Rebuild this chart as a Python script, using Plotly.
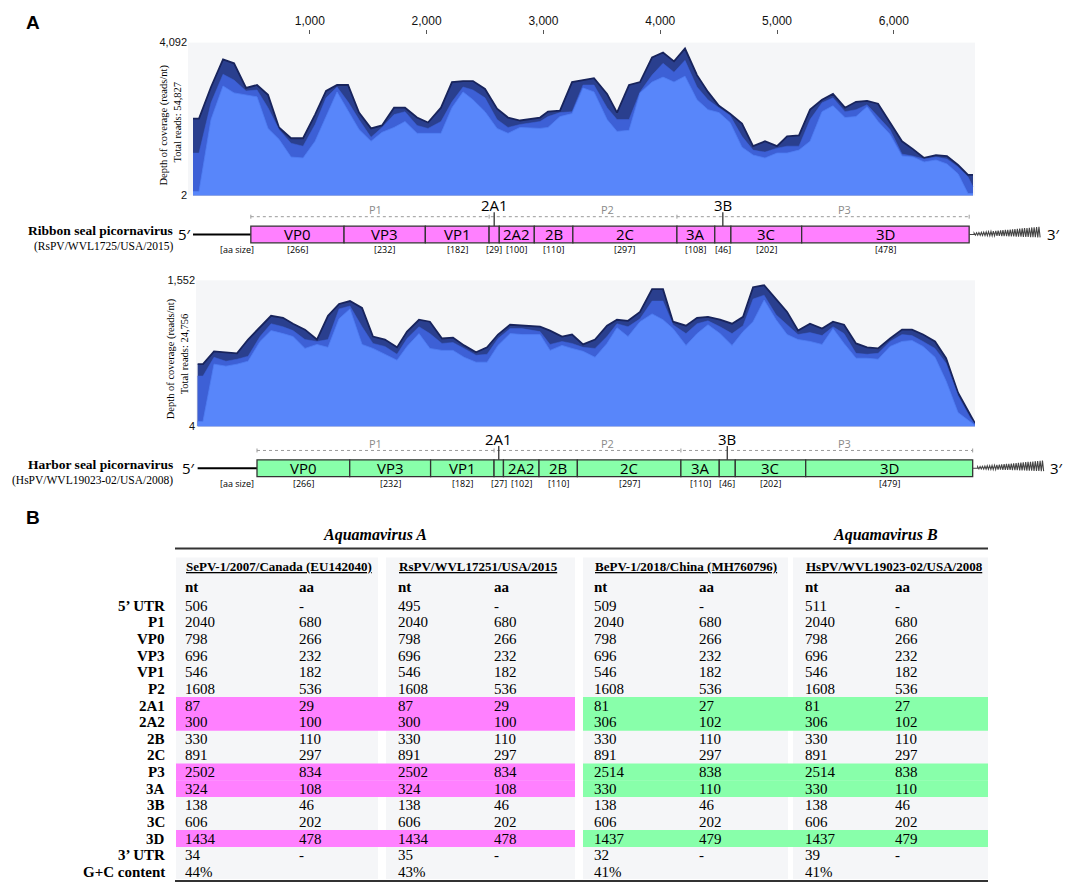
import plotly.graph_objects as go

# the page body adds an 8 px margin, so the figure is made 16 px smaller
# than the window and every position below is given in window pixels
WIN_W, WIN_H = 1084, 896
OFF = 8
W, H = WIN_W - 2 * OFF, WIN_H - 2 * OFF
SERIF = 'Liberation Serif, Times New Roman, serif'
SANS = 'Liberation Sans, Arial, sans-serif'
MAPF = 'Open Sans, sans-serif'

PINK = '#FF80FF'
GREEN = '#88FFAA'
DARK = '#2A3F8E'
MID = '#3D60D6'
LIGHT = '#5886FA'
PANEL = '#F5F6F8'


def px(x):
    return (x - OFF) / W


def py(y):
    return 1 - (y - OFF) / H


# ---- coverage along the RsPV genome (reads/nt) ----
rs_pos = [0, 51, 154, 257, 351, 454, 548, 642, 736, 839, 942, 1045, 1139, 1233, 1327, 1421, 1524, 1618, 1721, 1815,
          1918, 2012, 2123, 2217, 2312, 2397, 2500, 2603, 2697, 2800, 2971, 3039, 3142, 3245, 3339, 3433, 3545, 3630,
          3733, 3827, 3930, 4024, 4118, 4212, 4315, 4409, 4503, 4598, 4700, 4795, 4897, 5000, 5086, 5188, 5283, 5385,
          5479, 5582, 5676, 5771, 5865, 5967, 6070, 6164, 6259, 6361, 6455, 6550, 6635, 6678]
rs_high = [2060, 2060, 2905, 3644, 3538, 2879, 2958, 2694, 1823, 1533, 1533, 2166, 2799, 2958, 2958, 2219, 1797, 1876,
           2351, 2351, 2087, 1955, 2351, 3037, 3063, 3063, 2852, 2324, 2087, 2008, 2087, 2245, 2272, 3037, 3090, 3142,
           2720, 2219, 2958, 3037, 3697, 3829, 3591, 3934, 3222, 2773, 2403, 2192, 1928, 1322, 1453, 1322, 1585, 1612,
           2298, 2562, 2720, 2351, 2509, 2535, 2456, 1955, 1453, 1242, 1005, 1084, 1058, 820, 556, 556]
rs_mid = [1137, 1137, 2483, 3248, 3090, 2799, 2826, 2351, 1770, 1401, 1322, 1902, 2615, 2905, 2509, 2034, 1559, 1823,
          2166, 2245, 1876, 1797, 1981, 2509, 2905, 2826, 2615, 2034, 1823, 1902, 1981, 2113, 2219, 2245, 2958, 2958,
          2351, 2034, 2034, 2773, 3222, 3538, 3301, 3617, 2905, 2562, 2351, 2140, 1585, 1216, 1163, 1269, 1322, 1322,
          2034, 2483, 2615, 2245, 2298, 2430, 2113, 1770, 1110, 1058, 978, 1031, 978, 767, 503, 239]
rs_low = [108, 108, 2034, 2931, 2747, 2694, 2641, 1797, 1506, 1031, 1005, 1453, 2113, 2773, 2272, 1770, 1453, 1691,
          1823, 1981, 1665, 1665, 1665, 2351, 2773, 2562, 2245, 1797, 1665, 1823, 1797, 1823, 2113, 2192, 2879, 2773,
          2034, 1717, 1744, 2747, 3037, 3169, 3037, 3195, 2562, 2298, 2219, 1955, 1295, 1084, 1005, 1137, 1137, 1216,
          1453, 2245, 2403, 2087, 2113, 2377, 1981, 1638, 1058, 1031, 899, 952, 846, 583, 55, 55]

# ---- coverage along the HsPV genome (reads/nt) ----
hs_pos = [0, 46, 141, 244, 339, 434, 537, 632, 735, 821, 924, 1027, 1122, 1217, 1311, 1415, 1509, 1612, 1716, 1802,
          1905, 1999, 2103, 2198, 2293, 2396, 2491, 2585, 2689, 2792, 2947, 3033, 3136, 3222, 3317, 3420, 3523, 3609,
          3704, 3807, 3911, 4005, 4091, 4203, 4298, 4392, 4496, 4599, 4694, 4780, 4875, 4978, 5073, 5167, 5270, 5374,
          5468, 5563, 5666, 5761, 5856, 5959, 6062, 6148, 6243, 6346, 6441, 6544, 6647, 6690]
hs_high = [663, 663, 799, 789, 778, 924, 1060, 1176, 1155, 1092, 1029, 924, 1176, 1301, 1332, 1259, 956, 924, 841, 1008,
           1134, 1113, 935, 945, 862, 789, 841, 977, 1081, 1071, 1060, 1019, 956, 977, 872, 924, 1071, 1134, 1123, 1217,
           1458, 1458, 1113, 1071, 1155, 1165, 1134, 1092, 1165, 1479, 1500, 1353, 1217, 1019, 1092, 1040, 1113, 1081,
           883, 841, 830, 935, 1029, 1029, 977, 904, 726, 360, 140, 35]
hs_mid = [537, 537, 736, 694, 715, 747, 956, 1092, 1060, 1019, 924, 904, 924, 1249, 1280, 1060, 883, 851, 768, 935,
          1060, 987, 883, 893, 830, 757, 768, 935, 1040, 1040, 1008, 872, 904, 883, 841, 830, 956, 1092, 1060, 1144,
          1332, 1332, 1081, 987, 1092, 1123, 1060, 987, 1071, 1353, 1395, 1186, 1081, 977, 998, 966, 1060, 987, 778,
          768, 778, 904, 977, 966, 904, 830, 673, 328, 98, 25]
hs_low = [56, 56, 663, 642, 663, 694, 904, 1019, 987, 956, 830, 872, 841, 1144, 1249, 872, 830, 768, 705, 851, 987,
          830, 809, 809, 736, 684, 684, 862, 987, 977, 977, 809, 862, 830, 799, 736, 883, 1050, 956, 1113, 1196, 1134,
          1040, 862, 987, 1081, 987, 862, 1008, 1113, 1343, 1134, 977, 924, 904, 872, 1040, 883, 726, 726, 715, 851,
          904, 914, 851, 736, 485, 150, 56, 14]

tick_nt = [1000, 2000, 3000, 4000, 5000, 6000]
tick_text = ['1,000', '2,000', '3,000', '4,000', '5,000', '6,000']

# ---- genome organisation table ----
row_names = ['5’ UTR', 'P1', 'VP0', 'VP3', 'VP1', 'P2', '2A1', '2A2', '2B', '2C', 'P3', '3A', '3B', '3C', '3D',
             '3’ UTR', 'G+C content']
sepv_nt = ['506', '2040', '798', '696', '546', '1608', '87', '300', '330', '891', '2502', '324', '138', '606', '1434',
           '34', '44%']
sepv_aa = ['-', '680', '266', '232', '182', '536', '29', '100', '110', '297', '834', '108', '46', '202', '478', '-', '']
rspv_nt = ['495', '2040', '798', '696', '546', '1608', '87', '300', '330', '891', '2502', '324', '138', '606', '1434',
           '35', '43%']
rspv_aa = ['-', '680', '266', '232', '182', '536', '29', '100', '110', '297', '834', '108', '46', '202', '478', '-', '']
bepv_nt = ['509', '2040', '798', '696', '546', '1608', '81', '306', '330', '891', '2514', '330', '138', '606', '1437',
           '32', '41%']
bepv_aa = ['-', '680', '266', '232', '182', '536', '27', '102', '110', '297', '838', '110', '46', '202', '479', '-', '']
hspv_nt = ['511', '2040', '798', '696', '546', '1608', '81', '306', '330', '891', '2514', '330', '138', '606', '1437',
           '39', '41%']
hspv_aa = ['-', '680', '266', '232', '182', '536', '27', '102', '110', '297', '838', '110', '46', '202', '479', '-', '']
highlight_rows = [6, 7, 10, 11, 14]
seg_rows = [2, 3, 4, 6, 7, 8, 9, 11, 12, 13, 14]

# axis geometry (window pixels / nt range)
AX = {'x': dict(dom=(188, 975), rng=(-43, 6695)),
      'x2': dict(dom=(196, 975), rng=(-14, 6690))}


def nt_px(xa, v):
    d, r = AX[xa]['dom'], AX[xa]['rng']
    return d[0] + (v - r[0]) / (r[1] - r[0]) * (d[1] - d[0])


fig = go.Figure()
for pos, hi, mi, lo, xa, ya in [(rs_pos, rs_high, rs_mid, rs_low, 'x', 'y'),
                                (hs_pos, hs_high, hs_mid, hs_low, 'x2', 'y2')]:
    fig.add_trace(go.Scatter(x=pos, y=hi, xaxis=xa, yaxis=ya, mode='lines', fill='tozeroy',
                             fillcolor=DARK, line=dict(color='#18245C', width=1.8), hoverinfo='skip'))
    fig.add_trace(go.Scatter(x=pos, y=mi, xaxis=xa, yaxis=ya, mode='lines', fill='tozeroy',
                             fillcolor=MID, line=dict(color=MID, width=0.5), hoverinfo='skip'))
    fig.add_trace(go.Scatter(x=pos, y=lo, xaxis=xa, yaxis=ya, mode='lines', fill='tozeroy',
                             fillcolor=LIGHT, line=dict(color='#4F7DF2', width=0.8), hoverinfo='skip'))

shapes = []
ann = []


def text(x, y, t, size, family=SERIF, color='black', xanchor='center', xref='paper', angle=0):
    ann.append(dict(x=x if xref != 'paper' else px(x), y=py(y), xref=xref, yref='paper', text=t,
                    showarrow=False, xanchor=xanchor, yanchor='middle', textangle=angle,
                    font=dict(family=family, size=size, color=color)))


def line(x0, y0, x1, y1, color='#333', width=1, dash='solid', xref='paper'):
    shapes.append(dict(type='line', xref=xref, yref='paper',
                       x0=x0 if xref != 'paper' else px(x0), x1=x1 if xref != 'paper' else px(x1),
                       y0=py(y0), y1=py(y1), line=dict(color=color, width=width, dash=dash)))


def rect(x0, y0, x1, y1, fill, lc=None, lw=0, xref='paper'):
    shapes.append(dict(type='rect', xref=xref, yref='paper', layer='below' if lc is None else 'above',
                       x0=x0 if xref != 'paper' else px(x0), x1=x1 if xref != 'paper' else px(x1),
                       y0=py(y1), y1=py(y0), fillcolor=fill,
                       line=dict(color=lc or fill, width=lw)))


def genome_map(xa, top, nt, aa, fill, name, strain):
    h = 17
    mid = top + h / 2
    starts = [int(nt[0])]
    for r in seg_rows:
        starts.append(starts[-1] + int(nt[r]))
    # 5' UTR line
    line(0, mid, starts[0], mid, color='black', width=2, xref=xa)
    text(nt_px(xa, 0) - 9, mid, '5′', 15, MAPF)
    # P1 / P2 / P3 dotted bracket
    bounds = [starts[0], starts[3], starts[7], starts[-1]]
    line(bounds[0], top - 9.5, bounds[-1], top - 9.5, color='#9A9A9A', width=1, dash='dot', xref=xa)
    for b in bounds:
        line(b, top - 11.5, b, top - 7.5, color='#9A9A9A', width=1, xref=xa)
    for lab, xx in zip(['P1', 'P2', 'P3'], [375, 607, 844]):
        text(xx, top - 16.5, lab, 11, MAPF, '#8A8A8A')
    # segments
    for i, r in enumerate(seg_rows):
        rect(starts[i], top, starts[i + 1], top + h, fill, lc='#333333', lw=1.3, xref=xa)
        c = (starts[i] + starts[i + 1]) / 2
        if row_names[r] in ('2A1', '3B'):
            line(c, top - 14, c, top, color='#333', width=1.3, xref=xa)
            text(c, top - 21, row_names[r], 15, MAPF, xref=xa)
        else:
            text(c, mid, row_names[r], 15, MAPF, xref=xa)
        text(c, top + 24, '[' + aa[r] + ']', 9, MAPF, xref=xa)
    text(237, top + 24, '[aa size]', 9, MAPF)
    # poly(A) tail
    x0 = nt_px(xa, starts[-1])
    pts = [(x0, mid), (x0 + 5, mid)]
    xx, k = x0 + 5, 0
    while xx < x0 + 72:
        t = (xx - x0) / 72
        pts.append((xx, mid - (1 + 7 * t) if k % 2 == 0 else mid + (0.5 + 2.5 * t)))
        xx += 1.2
        k += 1
    path = 'M ' + ' L '.join('%.4f,%.4f' % (px(a), py(b)) for a, b in pts)
    shapes.append(dict(type='path', xref='paper', yref='paper', path=path,
                       line=dict(color='#444', width=1.1)))
    text(x0 + 84, mid, '3′', 15, MAPF)
    # name
    text(175, mid - 4, '<b>' + name + '</b>', 13.5, xanchor='right')
    text(175, mid + 12, strain, 11.5, xanchor='right')


genome_map('x', 223, rspv_nt, rspv_aa, PINK, 'Ribbon seal picornavirus', '(RsPV/WVL1725/USA/2015)')
genome_map('x2', 460, hspv_nt, hspv_aa, GREEN, 'Harbor seal picornavirus', '(HsPV/WVL19023-02/USA/2008)')

# y axis titles
text(164, 121, 'Depth of coverage (reads/nt)', 10.5, angle=-90)
text(177, 118, 'Total reads: 54,827', 10.5, angle=-90)
text(171, 358, 'Depth of coverage (reads/nt)', 10.5, angle=-90)
text(184, 352, 'Total reads: 24,756', 10.5, angle=-90)

# panel letters
text(24, 17, '<b>A</b>', 19, SANS, xanchor='left')
text(24, 518, '<b>B</b>', 19, SANS, xanchor='left')

# ---- table ----
row_y0, row_dy = 608, 16.85
groups = [(176, 378, 183, 297, 'SePV-1/2007/Canada (EU142040)', sepv_nt, sepv_aa),
          (386, 575, 396, 492, 'RsPV/WVL17251/USA/2015', rspv_nt, rspv_aa),
          (583, 788, 592, 697, 'BePV-1/2018/China (MH760796)', bepv_nt, bepv_aa),
          (793, 988, 803, 893, 'HsPV/WVL19023-02/USA/2008', hspv_nt, hspv_aa)]
for g0, g1, xn, xa_, title, ntv, aav in groups:
    rect(g0, 559, g1, 885, PANEL)
for r in highlight_rows:
    yc = row_y0 + r * row_dy
    rect(176, yc - 8.6, 575, yc + 8.6, PINK)
    rect(583, yc - 8.6, 988, yc + 8.6, GREEN)
for g0, g1, xn, xa_, title, ntv, aav in groups:
    text(xn + 1, 568, '<b><span style="text-decoration:underline">' + title + '</span></b>', 13, xanchor='left')
    text(xn, 589, '<b>nt</b>', 15, xanchor='left')
    text(xa_, 589, '<b>aa</b>', 15, xanchor='left')
    for i in range(len(row_names)):
        yc = row_y0 + i * row_dy
        text(xn, yc, ntv[i], 15, xanchor='left')
        if aav[i]:
            text(xa_, yc, aav[i], 15, xanchor='left')
for i, nm in enumerate(row_names):
    text(167, row_y0 + i * row_dy, '<b>' + nm + '</b>', 15, xanchor='right')

text(375, 536, '<b><i>Aquamavirus A</i></b>', 16)
text(885, 536, '<b><i>Aquamavirus B</i></b>', 16)
line(175, 550, 988, 550, color='#333', width=2)
line(175, 887, 988, 887, color='#333', width=2)

fig.update_layout(
    width=W, height=H, margin=dict(l=0, r=0, t=0, b=0),
    showlegend=False, paper_bgcolor='white', plot_bgcolor=PANEL,
    xaxis=dict(domain=[px(188), px(975)], range=list(AX['x']['rng']), side='top', anchor='free',
               position=py(28), tickvals=tick_nt, ticktext=tick_text, ticks='outside', ticklen=4,
               tickcolor='#555', tickfont=dict(family=SANS, size=12, color='#111'),
               showgrid=False, zeroline=False, showline=False),
    yaxis=dict(domain=[py(192), py(37)], range=[2, 4092], anchor='x', tickvals=[2, 4092],
               ticktext=['2', '4,092'], tickfont=dict(family=SANS, size=11, color='#111'),
               showgrid=False, zeroline=False, ticks=''),
    xaxis2=dict(domain=[px(196), px(975)], range=list(AX['x2']['rng']), anchor='y2',
                showticklabels=False, showgrid=False, zeroline=False, ticks=''),
    yaxis2=dict(domain=[py(426), py(278)], range=[4, 1552], anchor='x2', tickvals=[4, 1552],
                ticktext=['4', '1,552'], tickfont=dict(family=SANS, size=11, color='#111'),
                showgrid=False, zeroline=False, ticks=''),
    shapes=shapes, annotations=ann,
)

fig.write_html("out.html")
